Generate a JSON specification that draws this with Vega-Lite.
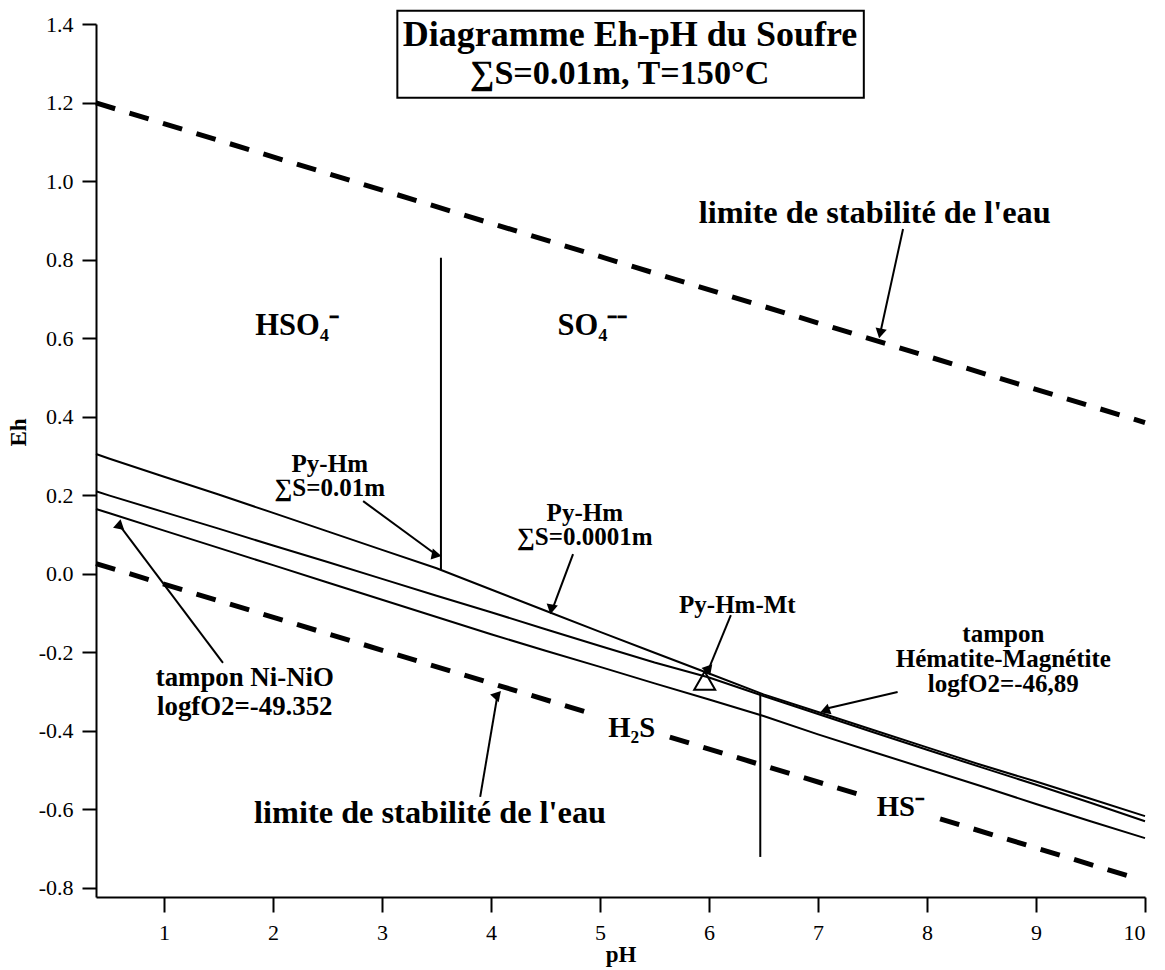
{
  "$schema": "https://vega.github.io/schema/vega-lite/v6.json",
  "width": 1049,
  "height": 873,
  "autosize": "none",
  "padding": {"left": 96, "top": 24, "right": 20, "bottom": 73},
  "background": "white",
  "config": {
    "view": {"stroke": null},
    "font": "Liberation Serif"
  },
  "datasets": {
    "curves": [
      {"s": "A", "pH": 0.375, "Eh": 0.305}, {"s": "A", "pH": 0.5, "Eh": 0.293}, {"s": "A", "pH": 1.0, "Eh": 0.247}, {"s": "A", "pH": 1.5, "Eh": 0.202},
      {"s": "A", "pH": 2.0, "Eh": 0.155}, {"s": "A", "pH": 2.5, "Eh": 0.108}, {"s": "A", "pH": 3.0, "Eh": 0.061}, {"s": "A", "pH": 3.5, "Eh": 0.014},
      {"s": "A", "pH": 4.0, "Eh": -0.040}, {"s": "A", "pH": 4.5, "Eh": -0.094}, {"s": "A", "pH": 5.0, "Eh": -0.148}, {"s": "A", "pH": 5.5, "Eh": -0.201},
      {"s": "A", "pH": 6.0, "Eh": -0.254}, {"s": "A", "pH": 6.5, "Eh": -0.307}, {"s": "A", "pH": 7.0, "Eh": -0.352}, {"s": "A", "pH": 7.5, "Eh": -0.397},
      {"s": "A", "pH": 8.0, "Eh": -0.442}, {"s": "A", "pH": 8.5, "Eh": -0.487}, {"s": "A", "pH": 9.0, "Eh": -0.529}, {"s": "A", "pH": 9.5, "Eh": -0.573},
      {"s": "A", "pH": 10.0, "Eh": -0.617},
      {"s": "B", "pH": 0.375, "Eh": 0.210}, {"s": "B", "pH": 0.5, "Eh": 0.199}, {"s": "B", "pH": 1.0, "Eh": 0.157}, {"s": "B", "pH": 1.5, "Eh": 0.115},
      {"s": "B", "pH": 2.0, "Eh": 0.072}, {"s": "B", "pH": 2.5, "Eh": 0.030}, {"s": "B", "pH": 3.0, "Eh": -0.013}, {"s": "B", "pH": 3.5, "Eh": -0.056},
      {"s": "B", "pH": 4.0, "Eh": -0.098}, {"s": "B", "pH": 4.5, "Eh": -0.141}, {"s": "B", "pH": 5.0, "Eh": -0.184}, {"s": "B", "pH": 5.5, "Eh": -0.226},
      {"s": "B", "pH": 6.0, "Eh": -0.264}, {"s": "B", "pH": 6.5, "Eh": -0.311}, {"s": "B", "pH": 7.0, "Eh": -0.357}, {"s": "B", "pH": 7.5, "Eh": -0.403},
      {"s": "B", "pH": 8.0, "Eh": -0.448}, {"s": "B", "pH": 8.5, "Eh": -0.493}, {"s": "B", "pH": 9.0, "Eh": -0.537}, {"s": "B", "pH": 9.5, "Eh": -0.583},
      {"s": "B", "pH": 10.0, "Eh": -0.630},
      {"s": "C", "pH": 0.375, "Eh": 0.165}, {"s": "C", "pH": 0.5, "Eh": 0.154}, {"s": "C", "pH": 1.0, "Eh": 0.110}, {"s": "C", "pH": 1.5, "Eh": 0.066},
      {"s": "C", "pH": 2.0, "Eh": 0.022}, {"s": "C", "pH": 2.5, "Eh": -0.022}, {"s": "C", "pH": 3.0, "Eh": -0.066}, {"s": "C", "pH": 3.5, "Eh": -0.110},
      {"s": "C", "pH": 4.0, "Eh": -0.154}, {"s": "C", "pH": 4.5, "Eh": -0.196}, {"s": "C", "pH": 5.0, "Eh": -0.237}, {"s": "C", "pH": 5.5, "Eh": -0.279},
      {"s": "C", "pH": 6.0, "Eh": -0.320}, {"s": "C", "pH": 6.5, "Eh": -0.362}, {"s": "C", "pH": 7.0, "Eh": -0.409}, {"s": "C", "pH": 7.5, "Eh": -0.453},
      {"s": "C", "pH": 8.0, "Eh": -0.497}, {"s": "C", "pH": 8.5, "Eh": -0.541}, {"s": "C", "pH": 9.0, "Eh": -0.586}, {"s": "C", "pH": 9.5, "Eh": -0.630},
      {"s": "C", "pH": 10.0, "Eh": -0.673}
    ],
    "water": [
      {"s": "O2", "pH": 0.375, "Eh": 1.199}, {"s": "O2", "pH": 10.0, "Eh": 0.385},
      {"s": "H2a", "pH": 0.375, "Eh": 0.026}, {"s": "H2a", "pH": 4.98, "Eh": -0.361},
      {"s": "H2b", "pH": 5.64, "Eh": -0.416}, {"s": "H2b", "pH": 7.45, "Eh": -0.568},
      {"s": "H2c", "pH": 8.12, "Eh": -0.624}, {"s": "H2c", "pH": 9.95, "Eh": -0.778}
    ],
    "verticals": [
      {"pH": 3.54, "top": 0.805, "bottom": 0.010},
      {"pH": 6.47, "top": -0.304, "bottom": -0.721}
    ],
    "arrows": [
      {"a": "eau_haut", "x1": 7.78, "y1": 0.878, "x2": 7.57, "y2": 0.612},
      {"a": "eau_bas", "x1": 3.90, "y1": -0.568, "x2": 4.055, "y2": -0.315},
      {"a": "nini", "x1": 1.54, "y1": -0.227, "x2": 0.60, "y2": 0.120},
      {"a": "pyhm1", "x1": 2.826, "y1": 0.185, "x2": 3.50, "y2": 0.048},
      {"a": "pyhm2", "x1": 4.752, "y1": 0.050, "x2": 4.57, "y2": -0.085},
      {"a": "pyhmmt", "x1": 6.20, "y1": -0.105, "x2": 6.00, "y2": -0.240},
      {"a": "hm", "x1": 7.73, "y1": -0.301, "x2": 7.08, "y2": -0.343}
    ],
    "labels": [
      {"t": "Diagramme Eh-pH du Soufre", "pH": 5.275, "Eh": 1.372, "k": "title1"},
      {"t": "∑S=0.01m, T=150°C", "pH": 5.18, "Eh": 1.272, "k": "title2"},
      {"t": "limite de stabilité de l'eau", "pH": 7.52, "Eh": 0.918, "k": "big"},
      {"t": "limite de stabilité de l'eau", "pH": 3.44, "Eh": -0.610, "k": "big"},
      {"t": "HSO₄⁻", "pH": 2.22, "Eh": 0.632, "k": "species"},
      {"t": "SO₄⁻⁻", "pH": 4.93, "Eh": 0.632, "k": "species"},
      {"t": "H₂S", "pH": 5.29, "Eh": -0.392, "k": "species2"},
      {"t": "HS⁻", "pH": 7.76, "Eh": -0.594, "k": "species2"},
      {"t": "tampon Ni-NiO", "pH": 1.74, "Eh": -0.266, "k": "mid"},
      {"t": "logfO2=-49.352", "pH": 1.74, "Eh": -0.340, "k": "mid"},
      {"t": "Py-Hm", "pH": 2.52, "Eh": 0.280, "k": "small"},
      {"t": "∑S=0.01m", "pH": 2.52, "Eh": 0.218, "k": "small"},
      {"t": "Py-Hm", "pH": 4.86, "Eh": 0.155, "k": "small"},
      {"t": "∑S=0.0001m", "pH": 4.86, "Eh": 0.093, "k": "small"},
      {"t": "Py-Hm-Mt", "pH": 6.26, "Eh": -0.080, "k": "small"},
      {"t": "tampon", "pH": 8.70, "Eh": -0.153, "k": "small"},
      {"t": "Hématite-Magnétite", "pH": 8.70, "Eh": -0.217, "k": "small"},
      {"t": "logfO2=-46,89", "pH": 8.70, "Eh": -0.281, "k": "small"}
    ],
    "box": [{"x1": 3.14, "x2": 7.42, "y1": 1.434, "y2": 1.212}],
    "tri": [{"pH": 5.96, "Eh": -0.272}]
  },
  "layer": [
    {
      "data": {"name": "box"},
      "mark": {"type": "rect", "fill": "white", "stroke": "black", "strokeWidth": 2, "clip": false},
      "encoding": {
        "x": {"field": "x1", "type": "quantitative", "scale": {"domain": [0.375, 10], "nice": false, "zero": false},
              "axis": {"values": [1,2,3,4,5,6,7,8,9,10], "format": "d", "title": "pH", "grid": false,
                       "domainColor": "black", "domainWidth": 2, "tickColor": "black", "tickWidth": 2, "tickSize": 15,
                       "labelFont": "Liberation Serif", "labelFontSize": 22, "labelColor": "black", "labelPadding": 10,
                       "titleFont": "Liberation Serif", "titleFontSize": 23, "titleFontWeight": "bold", "titleColor": "black",
                       "titleY": 57, "titleBaseline": "middle"}},
        "x2": {"field": "x2"},
        "y": {"field": "y1", "type": "quantitative", "scale": {"domain": [-0.823, 1.4], "nice": false, "zero": false},
              "axis": {"values": [-0.8,-0.6,-0.4,-0.2,0,0.2,0.4,0.6,0.8,1.0,1.2,1.4], "format": ".1f", "grid": false,
                       "labelExpr": "replace(datum.label, '\u2212', '-')", "title": "Eh",
                       "domainColor": "black", "domainWidth": 2, "tickColor": "black", "tickWidth": 2, "tickSize": 14,
                       "labelFont": "Liberation Serif", "labelFontSize": 22, "labelColor": "black", "labelPadding": 9,
                       "titleFont": "Liberation Serif", "titleFontSize": 23, "titleFontWeight": "bold", "titleColor": "black",
                       "titleX": -78, "titleY": 408, "titleBaseline": "middle"}},
        "y2": {"field": "y2"}
      }
    },
    {
      "data": {"name": "water"},
      "mark": {"type": "line", "stroke": "black", "strokeWidth": 5, "strokeDash": [20, 15]},
      "encoding": {
        "x": {"field": "pH", "type": "quantitative"},
        "y": {"field": "Eh", "type": "quantitative"},
        "detail": {"field": "s"}
      }
    },
    {
      "data": {"name": "curves"},
      "mark": {"type": "line", "stroke": "black", "strokeWidth": 2},
      "encoding": {
        "x": {"field": "pH", "type": "quantitative"},
        "y": {"field": "Eh", "type": "quantitative"},
        "detail": {"field": "s"}
      }
    },
    {
      "data": {"name": "verticals"},
      "mark": {"type": "rule", "stroke": "black", "strokeWidth": 2},
      "encoding": {
        "x": {"field": "pH", "type": "quantitative"},
        "y": {"field": "top", "type": "quantitative"},
        "y2": {"field": "bottom"}
      }
    },
    {
      "data": {"name": "arrows"},
      "mark": {"type": "rule", "stroke": "black", "strokeWidth": 2},
      "encoding": {
        "x": {"field": "x1", "type": "quantitative"},
        "y": {"field": "y1", "type": "quantitative"},
        "x2": {"field": "x2"},
        "y2": {"field": "y2"}
      }
    },
    {
      "data": {"name": "arrows"},
      "mark": {"type": "point", "shape": "triangle-up", "filled": true, "color": "black", "size": 130, "opacity": 1},
      "encoding": {
        "x": {"field": "x2", "type": "quantitative"},
        "y": {"field": "y2", "type": "quantitative"},
        "angle": {"field": "a", "type": "nominal", "legend": null,
                  "scale": {"domain": ["eau_haut", "eau_bas", "nini", "pyhm1", "pyhm2", "pyhmmt", "hm"],
                            "range": [192, 10, -37, 124, 202, 202, 257]}}
      }
    },
    {
      "data": {"name": "tri"},
      "mark": {"type": "point", "shape": "triangle-up", "filled": false, "stroke": "black", "strokeWidth": 2, "size": 440, "opacity": 1},
      "encoding": {
        "x": {"field": "pH", "type": "quantitative"},
        "y": {"field": "Eh", "type": "quantitative"}
      }
    },
    {
      "data": {"name": "labels"},
      "mark": {"type": "text", "font": "Liberation Serif", "fontWeight": "bold", "color": "black", "baseline": "middle", "align": "center"},
      "encoding": {
        "x": {"field": "pH", "type": "quantitative"},
        "y": {"field": "Eh", "type": "quantitative"},
        "text": {"field": "t"},
        "size": {"field": "k", "type": "nominal", "legend": null,
                 "scale": {"domain": ["title1", "title2", "big", "species", "species2", "mid", "small"], "range": [36, 25, 26, 30, 34, 24, 18]}}
      }
    }
  ]
}
